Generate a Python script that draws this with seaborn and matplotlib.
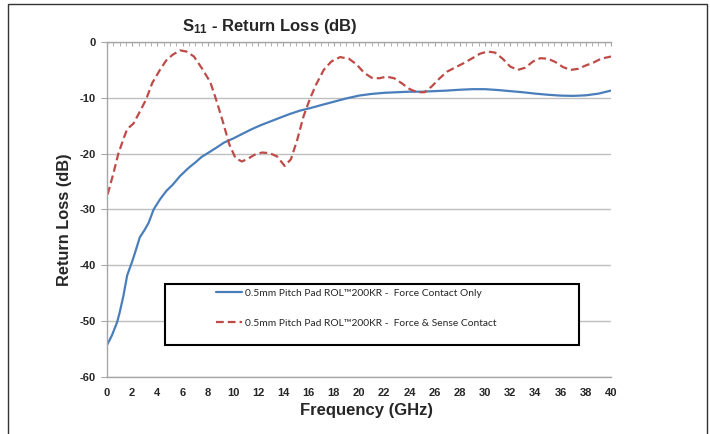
import numpy as np
import pandas as pd
import seaborn as sns
import matplotlib.pyplot as plt
from matplotlib.patches import Rectangle
from matplotlib.ticker import MultipleLocator

# Данные: S11 для двух вариантов контакта
freq_force = [0.0, 0.4, 0.8, 1.0, 1.3, 1.6, 2.0, 2.3, 2.6, 3.0, 3.3, 3.7, 4.2, 4.7, 5.2,
              5.8, 6.5, 7.0, 7.5, 8.0, 8.7, 9.3, 10.0, 10.7, 11.5, 12.2, 13.0, 13.8, 14.5,
              15.3, 16.2, 17.0, 18.0, 19.0, 20.0, 21.0, 22.0, 23.0, 24.0, 25.0, 26.0, 27.0,
              28.0, 29.0, 30.0, 31.0, 32.0, 33.0, 34.0, 35.0, 36.0, 37.0, 38.0, 39.0, 40.0]
rl_force = [-54.3, -52.5, -50.2, -48.5, -45.5, -41.8, -39.3, -37.2, -35.0, -33.6, -32.4,
            -30.0, -28.2, -26.7, -25.6, -24.0, -22.5, -21.6, -20.6, -19.9, -18.9, -18.0,
            -17.3, -16.5, -15.6, -14.9, -14.2, -13.5, -12.9, -12.3, -11.8, -11.3, -10.7,
            -10.1, -9.6, -9.3, -9.1, -9.0, -8.9, -8.9, -8.8, -8.7, -8.55, -8.45, -8.45,
            -8.6, -8.8, -9.0, -9.25, -9.45, -9.6, -9.65, -9.55, -9.25, -8.7]

freq_sense = [0.05, 0.5, 0.9, 1.3, 1.6, 2.1, 2.6, 3.1, 3.6, 4.2, 4.7, 5.2, 5.8, 6.3, 6.9,
              7.5, 8.2, 8.7, 9.2, 9.7, 10.2, 10.7, 11.2, 11.7, 12.3, 12.9, 13.5, 14.1, 14.6,
              15.1, 15.6, 16.1, 16.6, 17.2, 17.8, 18.5, 19.2, 19.8, 20.4, 21.0, 21.6, 22.2,
              22.8, 23.4, 24.0, 24.6, 25.2, 25.8, 26.4, 27.0, 27.6, 28.3, 29.0, 29.6, 30.2,
              30.8, 31.4, 32.0, 32.6, 33.2, 33.8, 34.4, 35.0, 35.6, 36.2, 36.8, 37.4, 38.0,
              38.6, 39.2, 40.0]
rl_sense = [-27.3, -23.6, -20.0, -17.4, -15.6, -14.6, -12.5, -10.3, -7.3, -5.0, -3.3, -2.3,
            -1.5, -1.7, -2.6, -4.6, -7.2, -10.6, -14.3, -18.3, -20.8, -21.4, -20.9, -20.2,
            -19.8, -19.9, -20.5, -22.2, -21.0, -17.5, -13.3, -10.2, -7.6, -5.0, -3.5, -2.7,
            -3.0, -4.0, -5.5, -6.4, -6.5, -6.2, -6.5, -7.4, -8.4, -9.0, -9.0, -7.9, -6.5,
            -5.3, -4.6, -3.8, -2.9, -2.1, -1.7, -1.9, -3.0, -4.4, -5.0, -4.6, -3.5, -2.9,
            -3.0, -3.6, -4.5, -5.0, -4.8, -4.2, -3.7, -3.0, -2.6]

label_force = "0.5mm Pitch Pad ROL\u2122200KR -  Force Contact Only"
label_sense = "0.5mm Pitch Pad ROL\u2122200KR -  Force & Sense Contact"

x_ticks = list(range(0, 41, 2))
y_ticks = [0, -10, -20, -30, -40, -50, -60]

df_force = pd.DataFrame({"freq": freq_force, "rl": rl_force})
df_sense = pd.DataFrame({"freq": freq_sense, "rl": rl_sense})

sns.set_style("white")
plt.rcParams["font.family"] = ["Liberation Sans", "DejaVu Sans"]
plt.rcParams["mathtext.fontset"] = "custom"
plt.rcParams["mathtext.rm"] = "Liberation Sans:bold"
plt.rcParams["mathtext.it"] = "Liberation Sans:bold"
plt.rcParams["mathtext.bf"] = "Liberation Sans:bold"

fig = plt.figure(figsize=(7.1, 4.34), dpi=100)
ax = fig.add_axes([107 / 710, 1 - 377 / 434, 504 / 710, 335 / 434])

sns.lineplot(data=df_force, x="freq", y="rl", ax=ax, color="#4A7EBB", lw=1.6,
             label=label_force)
sns.lineplot(data=df_sense, x="freq", y="rl", ax=ax, color="#BE4B48", lw=1.6,
             linestyle=(0, (3.5, 1.8)), label=label_sense)

ax.set_xlim(0, 40)
ax.set_ylim(-60, 0)
ax.set_xticks(x_ticks)
ax.set_xticklabels([str(v) for v in x_ticks], fontweight="bold", fontsize=8)
ax.set_yticks(y_ticks)
ax.set_yticklabels([str(v) for v in y_ticks], fontweight="bold", fontsize=8)
ax.xaxis.set_minor_locator(MultipleLocator(0.5))

grey = "#A6A6A6"
ax.grid(axis="y", color="#BFBFBF", lw=1)
ax.set_axisbelow(True)
for s in ["left", "top", "bottom"]:
    ax.spines[s].set_color(grey)
    ax.spines[s].set_linewidth(1)
ax.spines["right"].set_visible(False)

# ось X лежит на 0 дБ: засечки сверху, подписи снизу
ax.tick_params(axis="x", which="both", bottom=False, top=True, direction="in",
               length=3, color=grey, labelbottom=True, labeltop=False, pad=8)
ax.tick_params(axis="y", which="major", left=True, direction="out", length=4,
               color=grey, pad=4)

ax.set_xlabel("")
ax.set_ylabel("")
fig.text(366 / 710, 1 - 410 / 434, "Frequency (GHz)", ha="center", va="center",
         fontsize=12, fontweight="bold")
fig.text(64 / 710, 1 - 220 / 434, "Return Loss (dB)", ha="center", va="center",
         rotation=90, fontsize=11.8, fontweight="bold")
fig.text(270 / 710, 1 - 27 / 434, r"S$_{11}$ - Return Loss (dB)", ha="center",
         va="center", fontsize=12, fontweight="bold")

# легенда без рамки + отдельная рамка
ax.add_patch(Rectangle((0.115, 0.0955), 0.8215, 0.182, transform=ax.transAxes,
                       fill=True, facecolor="white", edgecolor="black", lw=1.5,
                       zorder=5))
leg = ax.legend(loc="center left", bbox_to_anchor=(0.2075, 0.205), frameon=False,
                borderaxespad=0, handlelength=2.6, handletextpad=0.25,
                labelspacing=2.0, prop={"family": ["Lato", "DejaVu Sans"], "size": 7.4})
leg.set_zorder(6)

# внешняя рамка рисунка
fig.add_artist(Rectangle((8 / 710, -0.1), 699 / 710, 1.1 - 4 / 434,
                         transform=fig.transFigure, fill=False, edgecolor="#333333",
                         lw=1, clip_on=False))

fig.savefig("out.png", dpi=100)
